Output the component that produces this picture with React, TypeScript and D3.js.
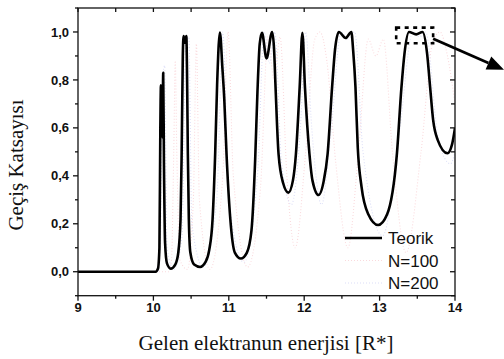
import React from "react";
import * as d3 from "d3";

// Transmission coefficient vs. incident electron energy [R*]
const teorik: [number, number][] = [
  [9.0, 0.0], [10.03, 0.0], [10.06, 0.012], [10.08, 0.1], [10.092, 0.6], [10.1, 0.778],
  [10.107, 0.58], [10.114, 0.74], [10.121, 0.56], [10.13, 0.83], [10.14, 0.45],
  [10.155, 0.12], [10.18, 0.035], [10.23, 0.013], [10.29, 0.03], [10.33, 0.08],
  [10.36, 0.22], [10.375, 0.5], [10.39, 0.9], [10.4, 0.983], [10.418, 0.955],
  [10.437, 0.983], [10.447, 0.8], [10.457, 0.49], [10.47, 0.22], [10.49, 0.08],
  [10.54, 0.03], [10.62, 0.02], [10.69, 0.04], [10.74, 0.09], [10.785, 0.22],
  [10.82, 0.5], [10.845, 0.78], [10.882, 0.998], [10.915, 0.85], [10.94, 0.72],
  [10.97, 0.49], [11.02, 0.22], [11.08, 0.08], [11.16, 0.055], [11.24, 0.08],
  [11.3, 0.17], [11.35, 0.47], [11.38, 0.75], [11.41, 0.95], [11.44, 0.997],
  [11.5, 0.89], [11.575, 1.0], [11.6, 0.93], [11.62, 0.77], [11.66, 0.49],
  [11.72, 0.37], [11.79, 0.33], [11.85, 0.38], [11.89, 0.49], [11.94, 0.77],
  [11.976, 0.997], [12.01, 0.77], [12.07, 0.49], [12.11, 0.38], [12.19, 0.32],
  [12.26, 0.38], [12.31, 0.49], [12.37, 0.77], [12.41, 0.93], [12.46, 1.0],
  [12.55, 0.975], [12.625, 1.0], [12.65, 0.92], [12.68, 0.77], [12.71, 0.52],
  [12.76, 0.355], [12.85, 0.24], [12.98, 0.195], [13.1, 0.24], [13.23, 0.494],
  [13.29, 0.77], [13.33, 0.91], [13.39, 1.0], [13.485, 0.99], [13.57, 1.0],
  [13.63, 0.91], [13.67, 0.77], [13.71, 0.633], [13.77, 0.55], [13.9, 0.494],
  [13.96, 0.53], [14.0, 0.6],
];

const n100: [number, number][] = [
  [9.0, 0.0], [10.2, 0.0], [10.24, 0.05], [10.27, 0.5], [10.29, 0.88], [10.31, 0.5],
  [10.35, 0.05], [10.45, 0.01], [10.53, 0.3], [10.57, 0.95], [10.61, 0.3],
  [10.75, 0.01], [10.92, 0.4], [10.99, 1.0], [11.06, 0.4], [11.25, 0.02],
  [11.42, 0.35], [11.52, 0.98], [11.6, 0.8], [11.68, 0.98], [11.77, 0.4],
  [11.88, 0.1], [12.02, 0.5], [12.14, 0.97], [12.21, 1.0], [12.3, 0.88],
  [12.42, 0.45], [12.58, 0.1], [12.72, 0.5], [12.85, 0.97], [12.95, 0.9],
  [13.05, 0.97], [13.17, 0.5], [13.35, 0.08], [13.55, 0.5], [13.7, 0.95],
  [13.8, 1.0], [13.9, 0.9], [14.0, 0.7],
];

const n200: [number, number][] = [
  [9.0, 0.0], [10.06, 0.0], [10.09, 0.1], [10.12, 0.8], [10.15, 0.86], [10.18, 0.1],
  [10.27, 0.01], [10.38, 0.15], [10.43, 0.97], [10.47, 0.98], [10.51, 0.2],
  [10.66, 0.02], [10.84, 0.3], [10.92, 1.0], [11.0, 0.3], [11.2, 0.04],
  [11.38, 0.4], [11.47, 1.0], [11.54, 0.87], [11.61, 1.0], [11.7, 0.45],
  [11.83, 0.28], [11.95, 0.6], [12.02, 1.0], [12.1, 0.6], [12.23, 0.28],
  [12.36, 0.6], [12.49, 1.0], [12.58, 0.97], [12.67, 1.0], [12.78, 0.5],
  [13.04, 0.15], [13.27, 0.6], [13.44, 1.0], [13.53, 0.98], [13.61, 1.0],
  [13.78, 0.55], [13.94, 0.45], [14.0, 0.5],
];

const xMajor = [9, 10, 11, 12, 13, 14];
const xMinor = [9.5, 10.5, 11.5, 12.5, 13.5];
const yMajor = [0, 0.2, 0.4, 0.6, 0.8, 1.0];
const yMinor = [-0.1, 0.1, 0.3, 0.5, 0.7, 0.9, 1.1];

const pink = "#fadadd";
const lavender = "#dcdef7";

const legendItems = [
  { label: "Teorik", color: "#000", width: 2.6, dash: "" },
  { label: "N=100", color: pink, width: 1.1, dash: "1,2" },
  { label: "N=200", color: lavender, width: 1.1, dash: "1,2" },
];

// zoom marker around the last peak and its pointer
const boxX = [13.22, 13.71];
const boxY = [0.953, 1.018];
const arrowFrom: [number, number] = [13.71, 0.972];
const arrowTo: [number, number] = [14.65, 0.842];

const W = 504;
const H = 359;
const left = 78, right = 455, top = 8, bottom = 295.7;

export default function App() {
  const x = d3.scaleLinear().domain([9, 14]).range([left, right]);
  const y = d3.scaleLinear().domain([-0.1, 1.1]).range([bottom, top]);
  const line = d3
    .line<[number, number]>()
    .x((d) => x(d[0]))
    .y((d) => y(d[1]))
    .curve(d3.curveMonotoneX);

  const fmt = (v: number) => d3.format(".1f")(v).replace(".", ",");
  const tickFont = "'Liberation Sans', Arial, sans-serif";
  const serif = "'Liberation Serif', 'Times New Roman', serif";

  const ax0 = x(arrowFrom[0]), ay0 = y(arrowFrom[1]);
  const ax1 = x(arrowTo[0]), ay1 = y(arrowTo[1]);
  const ang = Math.atan2(ay1 - ay0, ax1 - ax0);
  const headLen = 17, headHalf = 7;
  const bx = ax1 - headLen * Math.cos(ang), by = ay1 - headLen * Math.sin(ang);
  const head = [
    [ax1, ay1],
    [bx + headHalf * Math.sin(ang), by - headHalf * Math.cos(ang)],
    [bx - headHalf * Math.sin(ang), by + headHalf * Math.cos(ang)],
  ];

  return (
    <svg
      width={W}
      height={H}
      viewBox={`0 0 ${W} ${H}`}
      style={{ position: "absolute", left: 0, top: 0, background: "#fff" }}
    >
      <defs>
        <clipPath id="plot">
          <rect x={left} y={top} width={right - left} height={bottom - top} />
        </clipPath>
      </defs>

      <g clipPath="url(#plot)" fill="none">
        <path d={line(n100) ?? ""} stroke={pink} strokeWidth={1.1} strokeDasharray="1,2" />
        <path d={line(n200) ?? ""} stroke={lavender} strokeWidth={1.1} strokeDasharray="1,2" />
        <path d={line(teorik) ?? ""} stroke="#000" strokeWidth={2.6} strokeLinejoin="round" />
      </g>

      {/* frame */}
      <rect x={left} y={top} width={right - left} height={bottom - top} fill="none" stroke="#111" strokeWidth={1.3} />

      {/* bottom axis: outward ticks */}
      {xMajor.map((v) => (
        <g key={`xb${v}`}>
          <line x1={x(v)} x2={x(v)} y1={bottom} y2={bottom + 5} stroke="#111" strokeWidth={1.3} />
          <text
            x={x(v)}
            y={312}
            textAnchor="middle"
            fontFamily={tickFont}
            fontWeight="bold"
            fontSize={13}
            fill="#111"
          >
            {v}
          </text>
        </g>
      ))}
      {xMinor.map((v) => (
        <line key={`xm${v}`} x1={x(v)} x2={x(v)} y1={bottom} y2={bottom + 3} stroke="#111" strokeWidth={1.3} />
      ))}
      {/* top axis: inward ticks */}
      {[...xMajor, ...xMinor].map((v) => (
        <line key={`xt${v}`} x1={x(v)} x2={x(v)} y1={top} y2={top + 4} stroke="#111" strokeWidth={1.3} />
      ))}

      {/* left axis: outward ticks */}
      {yMajor.map((v) => (
        <g key={`yl${v}`}>
          <line x1={left - 5} x2={left} y1={y(v)} y2={y(v)} stroke="#111" strokeWidth={1.3} />
          <text
            x={69}
            y={y(v) + 4.6}
            textAnchor="end"
            fontFamily={tickFont}
            fontWeight="bold"
            fontSize={13}
            fill="#111"
          >
            {fmt(v)}
          </text>
        </g>
      ))}
      {yMinor.map((v) => (
        <line key={`ym${v}`} x1={left - 3} x2={left} y1={y(v)} y2={y(v)} stroke="#111" strokeWidth={1.3} />
      ))}
      {/* right axis: inward ticks */}
      {yMajor.map((v) => (
        <line key={`yr${v}`} x1={right - 5} x2={right} y1={y(v)} y2={y(v)} stroke="#111" strokeWidth={1.3} />
      ))}
      {yMinor.map((v) => (
        <line key={`yrm${v}`} x1={right - 4} x2={right} y1={y(v)} y2={y(v)} stroke="#111" strokeWidth={1.3} />
      ))}

      {/* axis titles */}
      <text x={266} y={350} textAnchor="middle" fontFamily={serif} fontSize={21} fill="#111">
        Gelen elektranun enerjisi [R*]
      </text>
      <text
        transform={`translate(23,165) rotate(-90)`}
        textAnchor="middle"
        fontFamily={serif}
        fontSize={21}
        fill="#111"
      >
        Geçiş Katsayısı
      </text>

      {/* legend */}
      {legendItems.map((d, i) => {
        const cy = 238 + i * 22.5;
        return (
          <g key={d.label}>
            <line
              x1={345}
              x2={382}
              y1={cy}
              y2={cy}
              stroke={d.color}
              strokeWidth={d.width}
              strokeDasharray={d.dash || undefined}
            />
            <text x={388} y={cy + 6.3} fontFamily={tickFont} fontSize={17} fill="#111">
              {d.label}
            </text>
          </g>
        );
      })}

      {/* zoom marker */}
      <rect
        x={x(boxX[0])}
        y={y(boxY[1])}
        width={x(boxX[1]) - x(boxX[0])}
        height={y(boxY[0]) - y(boxY[1])}
        fill="none"
        stroke="#000"
        strokeWidth={2.6}
        strokeDasharray="4,4.5"
      />
      <line x1={ax0} y1={ay0} x2={bx} y2={by} stroke="#000" strokeWidth={2.8} />
      <polygon points={head.map((p) => p.join(",")).join(" ")} fill="#000" />
    </svg>
  );
}
